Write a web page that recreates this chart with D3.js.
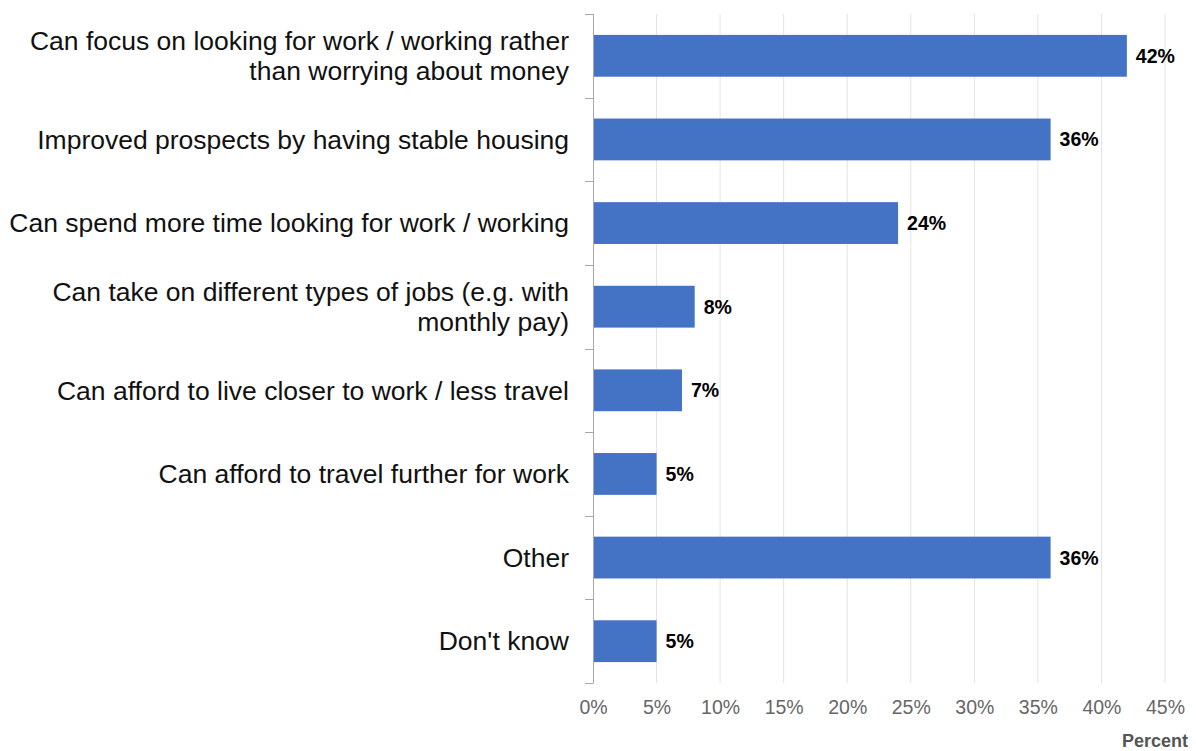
<!DOCTYPE html>
<html>
<head>
<meta charset="utf-8">
<script src="https://cdn.jsdelivr.net/npm/d3@7"></script>
<style>
  html, body { margin: 0; padding: 0; background: #fff; }
  svg { display: block; font-family: "Liberation Sans", Arial, sans-serif; }
</style>
</head>
<body>
<svg id="chart" width="1196" height="751"></svg>
<script>
// Reasons given, one line per array entry
const categories = [
  ["Can focus on looking for work / working rather", "than worrying about money"],
  ["Improved prospects by having stable housing"],
  ["Can spend more time looking for work / working"],
  ["Can take on different types of jobs (e.g. with", "monthly pay)"],
  ["Can afford to live closer to work / less travel"],
  ["Can afford to travel further for work"],
  ["Other"],
  ["Don't know"]
];
const values = [42, 36, 24, 8, 7, 5, 36, 5];
const tickValues = [0, 5, 10, 15, 20, 25, 30, 35, 40, 45];
const axisTitle = "Percent";

const svg = d3.select("#chart");
const margin = { left: 593, right: 31, top: 14, bottom: 68 };
const width = 1196, height = 751;

const x = d3.scaleLinear()
  .domain([0, 45])
  .range([margin.left, width - margin.right]);

const y = d3.scaleBand()
  .domain(d3.range(categories.length))
  .range([margin.top, height - margin.bottom])
  .paddingInner(0.5)
  .paddingOuter(0.25);

// Vertical gridlines
svg.append("g")
  .selectAll("line")
  .data(tickValues.filter(d => d > 0))
  .join("line")
  .attr("x1", d => x(d)).attr("x2", d => x(d))
  .attr("y1", margin.top).attr("y2", height - margin.bottom)
  .attr("stroke", "#e3e3e3")
  .attr("stroke-width", 1);

// Bottom tick labels
const xAxis = d3.axisBottom(x)
  .tickValues(tickValues)
  .tickFormat(d => d + "%")
  .tickSize(0)
  .tickPadding(17);
const gx = svg.append("g")
  .attr("transform", `translate(0,${height - margin.bottom})`)
  .call(xAxis);
gx.select(".domain").remove();
gx.selectAll("text")
  .attr("fill", "#666")
  .style("font-size", "19.5px")
  .style("font-family", "'Liberation Sans', Arial, sans-serif");

// Bars
svg.append("g")
  .selectAll("rect")
  .data(values)
  .join("rect")
  .attr("x", x(0))
  .attr("y", (d, i) => y(i))
  .attr("width", d => x(d) - x(0))
  .attr("height", y.bandwidth())
  .attr("fill", "#4472C4");

// Left axis with category ticks between bands
const bandH = (height - margin.bottom - margin.top) / categories.length;
const boundaries = d3.range(categories.length + 1).map(i => margin.top + i * bandH);
const gy = svg.append("g");
gy.append("line")
  .attr("x1", x(0) + 0.5).attr("x2", x(0) + 0.5)
  .attr("y1", margin.top).attr("y2", height - margin.bottom)
  .attr("stroke", "#a6a6a6").attr("stroke-width", 1);
gy.selectAll("line.tick")
  .data(boundaries)
  .join("line")
  .attr("class", "tick")
  .attr("x1", x(0) - 8).attr("x2", x(0) + 0.5)
  .attr("y1", d => Math.round(d) + 0.5).attr("y2", d => Math.round(d) + 0.5)
  .attr("stroke", "#a6a6a6").attr("stroke-width", 1);

// Category labels
const lineH = 30;
svg.append("g")
  .selectAll("text")
  .data(categories)
  .join("text")
  .attr("text-anchor", "end")
  .attr("fill", "#111")
  .style("font-size", "26.5px")
  .each(function (lines, i) {
    const cy = y(i) + y.bandwidth() / 2;
    const t = d3.select(this);
    lines.forEach((ln, j) => {
      t.append("tspan")
        .attr("x", 569)
        .attr("y", cy + (j - (lines.length - 1) / 2) * lineH)
        .attr("dy", "0.35em")
        .text(ln);
    });
  });

// Value labels
svg.append("g")
  .selectAll("text")
  .data(values)
  .join("text")
  .attr("x", d => x(d) + 9)
  .attr("y", (d, i) => y(i) + y.bandwidth() / 2)
  .attr("dy", "0.36em")
  .attr("fill", "#000")
  .style("font-size", "19.5px")
  .style("font-weight", "bold")
  .text(d => d + "%");

// Axis title
svg.append("text")
  .attr("x", 1188)
  .attr("y", 747)
  .attr("text-anchor", "end")
  .attr("fill", "#555")
  .style("font-size", "18px")
  .style("font-weight", "bold")
  .text(axisTitle);
</script>
</body>
</html>
